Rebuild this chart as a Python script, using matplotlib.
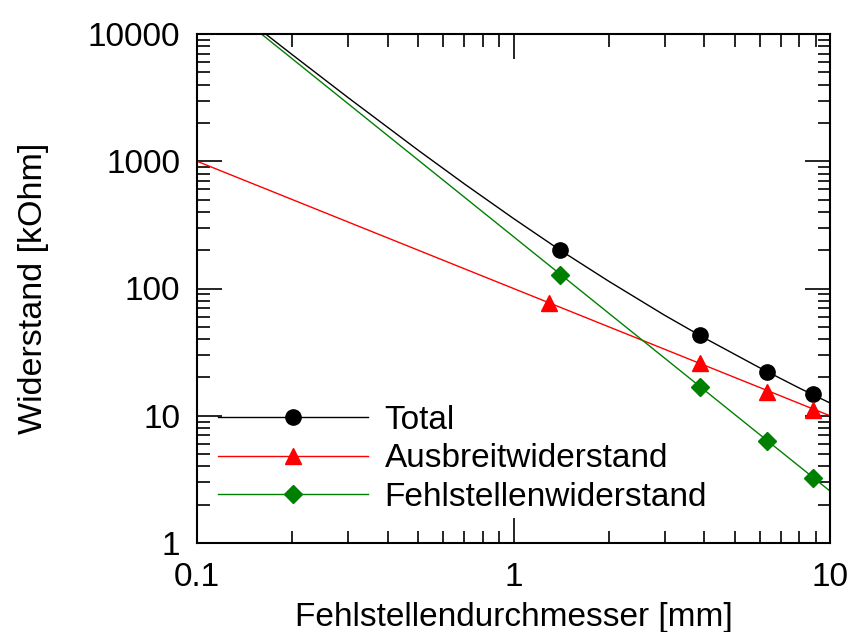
import matplotlib
matplotlib.use("Agg")
import matplotlib.pyplot as plt
from matplotlib.ticker import LogLocator, FixedLocator, FixedFormatter, NullFormatter

plt.rcParams['font.family'] = ['Liberation Sans', 'DejaVu Sans']

# Curves
total_line_x = [0.15, 0.2, 0.3, 0.5, 0.7, 1.0, 1.4, 2.0, 3.0, 4.0, 6.0, 8.0, 10.0]
total_line_y = [12000, 6875, 3167, 1220, 663, 355, 201, 114, 61.7, 41, 23.8, 16.5, 12.6]
ausb_line_x = [0.1, 10.0]
ausb_line_y = [1000, 10]
fehl_line_x = [0.1, 10.0]
fehl_line_y = [25500, 2.56]

# Markers
total_x = [1.40, 3.88, 6.32, 8.84]
total_y = [201, 43.1, 22.1, 14.8]
ausb_x = [1.29, 3.88, 6.32, 8.84]
ausb_y = [76.9, 26.0, 15.4, 11.1]
fehl_x = [1.40, 3.88, 6.32, 8.84]
fehl_y = [128, 16.8, 6.3, 3.24]

labels = ["Total", "Ausbreitwiderstand", "Fehlstellenwiderstand"]
xticks = [0.1, 1, 10]
xticklabels = ["0.1", "1", "10"]
yticks = [1, 10, 100, 1000, 10000]
yticklabels = ["1", "10", "100", "1000", "10000"]

W, H = 851, 632
fig = plt.figure(figsize=(W/100, H/100), dpi=100)
ax = fig.add_axes([197/W, 1-543/H, (830-197)/W, (543-34)/H])

green = '#008000'
ax.plot(total_line_x, total_line_y, color='black', lw=1.0, zorder=2)
ax.plot(ausb_line_x, ausb_line_y, color='red', lw=1.0, zorder=2)
ax.plot(fehl_line_x, fehl_line_y, color=green, lw=1.0, zorder=2)
ax.plot(total_x, total_y, 'o', color='black', ms=11, zorder=3)
ax.plot(ausb_x, ausb_y, '^', color='red', ms=12, zorder=3)
ax.plot(fehl_x, fehl_y, 'D', color=green, ms=9, zorder=3)

# legend handles
h1, = ax.plot([], [], '-o', color='black', lw=1.0, ms=11)
h2, = ax.plot([], [], '-^', color='red', lw=1.0, ms=12)
h3, = ax.plot([], [], '-D', color=green, lw=1.0, ms=9)
leg = ax.legend([h1, h2, h3], labels, loc='upper left', bbox_to_anchor=(0.033, 0.272),
                frameon=False, fontsize=24, handlelength=4.5, handletextpad=0.5,
                labelspacing=0.23, borderpad=0, borderaxespad=0)

ax.set_xscale('log')
ax.set_yscale('log')
ax.set_xlim(0.1, 10)
ax.set_ylim(1, 10000)
ax.xaxis.set_major_locator(FixedLocator(xticks))
ax.xaxis.set_major_formatter(FixedFormatter(xticklabels))
ax.yaxis.set_major_locator(FixedLocator(yticks))
ax.yaxis.set_major_formatter(FixedFormatter(yticklabels))
ax.xaxis.set_minor_locator(LogLocator(base=10, subs=range(2, 10)))
ax.yaxis.set_minor_locator(LogLocator(base=10, subs=range(2, 10)))
ax.xaxis.set_minor_formatter(NullFormatter())
ax.yaxis.set_minor_formatter(NullFormatter())

ax.tick_params(which='both', direction='in', top=True, right=True, labelsize=24, width=1.2, colors='black')
ax.tick_params(which='major', length=18, pad=12)
ax.tick_params(which='minor', length=9)
ax.tick_params(axis='x', which='major', pad=14)
for s in ax.spines.values():
    s.set_linewidth(1.5)

ax.set_xlabel("Fehlstellendurchmesser [mm]", fontsize=24, labelpad=6)
ax.set_ylabel("Widerstand [kOhm]", fontsize=24.5, labelpad=28)

fig.savefig("out.png", dpi=100)
